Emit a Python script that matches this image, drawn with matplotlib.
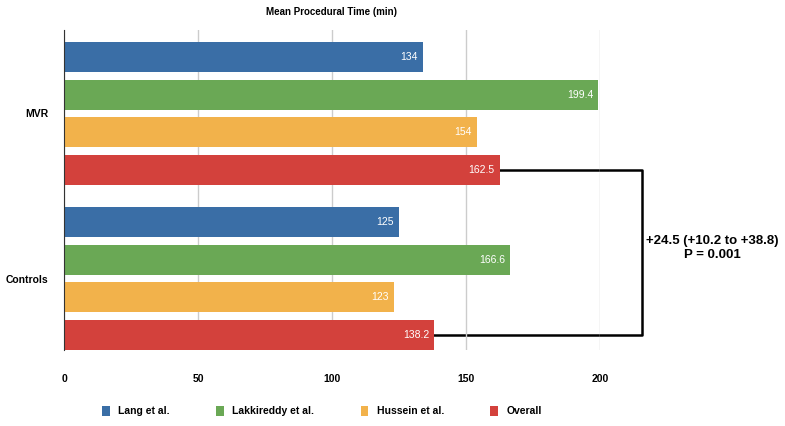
import matplotlib
matplotlib.use("Agg")
import matplotlib.pyplot as plt
import numpy as np

plt.rcParams["font.family"] = ["Liberation Sans", "DejaVu Sans"]

# data
groups = ["MVR", "Controls"]
studies = ["Lang et al.", "Lakkireddy et al.", "Hussein et al.", "Overall"]
mvr_times = [134, 199.4, 154, 162.5]
control_times = [125, 166.6, 123, 138.2]
x_ticks = [0, 50, 100, 150, 200]
diff_text = "+24.5 (+10.2 to +38.8)\nP = 0.001"

colors = ["#3A6EA6", "#6AA855", "#F2B24B", "#D3413C"]

fig = plt.figure(figsize=(7.85, 4.26), dpi=100)
ax = fig.add_axes([64 / 785, 1 - 350 / 426, 536 / 785, 320 / 426])

group_gap = 4.4
for g, vals in enumerate([mvr_times, control_times]):
    for i, v in enumerate(vals):
        y = g * group_gap + i
        ax.barh(y, v, height=0.8, color=colors[i],
                label=studies[i] if g == 0 else None, zorder=2)
        ax.text(v - 2, y, f"{v:g}", color="white", ha="right", va="center",
                fontsize=7.5, zorder=3)

ax.set_xlim(0, 200)
ax.set_ylim(3 + group_gap + 0.4, -0.72)
ax.set_xticks(x_ticks)
ax.set_xticklabels([str(t) for t in x_ticks], fontweight="bold", fontsize=7.5)
ax.tick_params(axis="x", length=0, pad=17)
ax.set_yticks([1.5, group_gap + 1.5])
ax.set_yticklabels(groups, fontweight="bold", fontsize=7.5)
ax.tick_params(axis="y", length=0, pad=11)
ax.xaxis.grid(True, color="#cccccc", linewidth=1, zorder=0)
for s in ["top", "right", "bottom"]:
    ax.spines[s].set_visible(False)
ax.spines["left"].set_color("#333333")
ax.spines["left"].set_zorder(4)

# bracket between the two overall bars
y1 = 3
y2 = group_gap + 3
xr = 215.5
ax.plot([mvr_times[3], xr, xr, control_times[3]], [y1, y1, y2, y2],
        color="black", linewidth=1.8, clip_on=False, zorder=1)
fig.text(712 / 785, 1 - 248 / 426, diff_text, ha="center", va="center",
         fontweight="bold", fontsize=9.5, linespacing=1.25)

fig.text(332 / 785, 1 - 12 / 426, "Mean Procedural Time (min)",
         ha="center", va="center", fontweight="bold", fontsize=7)

fig.legend(loc="center", bbox_to_anchor=(322 / 785, 1 - 411 / 426), ncol=4,
           frameon=False, handlelength=0.75, handleheight=1.2,
           columnspacing=4.45, handletextpad=0.8,
           prop={"weight": "bold", "size": 7.5})

fig.savefig("out.png", dpi=100)
